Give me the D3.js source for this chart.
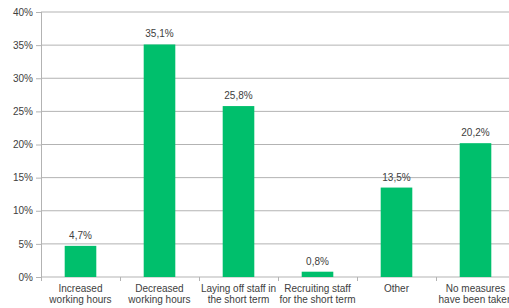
<!DOCTYPE html>
<html>
<head>
<meta charset="utf-8">
<script src="https://cdn.jsdelivr.net/npm/d3@7"></script>
<style>
  body { margin: 0; background: #fff; overflow: hidden; }
  text { font-family: "Liberation Sans", Arial, sans-serif; fill: #404040; }
</style>
</head>
<body>
<div id="chart"></div>
<script>
// Data
const categories = [
    ["Increased", "working hours"],
    ["Decreased", "working hours"],
    ["Laying off staff in", "the short term"],
    ["Recruiting staff", "for the short term"],
    ["Other"],
    ["No measures", "have been taken"]
];
const values = [4.7, 35.1, 25.8, 0.8, 13.5, 20.2];
const yTicks = [0, 5, 10, 15, 20, 25, 30, 35, 40];

// Margins of the graph
const margin = {top: 12, right: 0, bottom: 31, left: 41};
const width = 6 * 79;
const height = 308 - margin.top - margin.bottom;

let svg = d3.select("#chart")
    .append("svg")
    .attr("width", 509)
    .attr("height", 308)
    .append("g")
    .attr("transform", `translate(${margin.left}, ${margin.top})`);

let x = d3.scaleBand(d3.range(categories.length), [0, width]).paddingInner(0.6).paddingOuter(0.3);
let y = d3.scaleLinear([0, 40], [height, 0]);

// grid lines
svg.append("g")
    .selectAll("line")
    .data(yTicks.slice(1))
    .join("line")
    .attr("x1", 0)
    .attr("x2", width)
    .attr("y1", d => y(d))
    .attr("y2", d => y(d))
    .attr("stroke", "#b3b3b3")
    .attr("stroke-width", 1);

// y axis
let yAxis = svg.append("g")
    .call(d3.axisLeft(y).tickValues(yTicks).tickSize(5).tickPadding(3).tickFormat(d => d + "%"));
yAxis.select(".domain").attr("stroke", "#b3b3b3").attr("d", `M0.5,0V${height}`);
yAxis.selectAll(".tick line").attr("stroke", "#b3b3b3");
yAxis.selectAll("text").style("font-size", "10px").attr("fill", "#404040");

// x axis
let xAxisG = svg.append("g").attr("transform", `translate(0, ${height})`);
xAxisG.append("line")
    .attr("x1", 0).attr("x2", width)
    .attr("stroke", "#b3b3b3");
xAxisG.selectAll(".tk")
    .data(d3.range(categories.length + 1))
    .join("line")
    .attr("x1", i => i * x.step() + 0.5)
    .attr("x2", i => i * x.step() + 0.5)
    .attr("y1", 0).attr("y2", 4)
    .attr("stroke", "#b3b3b3");

// bars
svg.append("g")
    .selectAll("rect")
    .data(values)
    .join("rect")
    .attr("x", (d, i) => x(i))
    .attr("y", d => y(d))
    .attr("width", x.bandwidth())
    .attr("height", d => height - y(d))
    .attr("fill", "#00bf6c");

// value labels
svg.append("g")
    .selectAll("text")
    .data(values)
    .join("text")
    .attr("x", (d, i) => x(i) + x.bandwidth() / 2)
    .attr("y", d => y(d) - 7)
    .attr("text-anchor", "middle")
    .style("font-size", "10px")
    .text(d => d.toFixed(1).replace(".", ",") + "%");

// category labels
let cat = svg.append("g")
    .selectAll("text")
    .data(categories)
    .join("text")
    .attr("x", (d, i) => x(i) + x.bandwidth() / 2)
    .attr("y", height + 15)
    .attr("text-anchor", "middle")
    .style("font-size", "10px");
cat.selectAll("tspan")
    .data(d => d)
    .join("tspan")
    .attr("x", function() { return this.parentNode.getAttribute("x"); })
    .attr("dy", (d, i) => i === 0 ? 0 : 11)
    .text(d => d);
</script>
</body>
</html>
